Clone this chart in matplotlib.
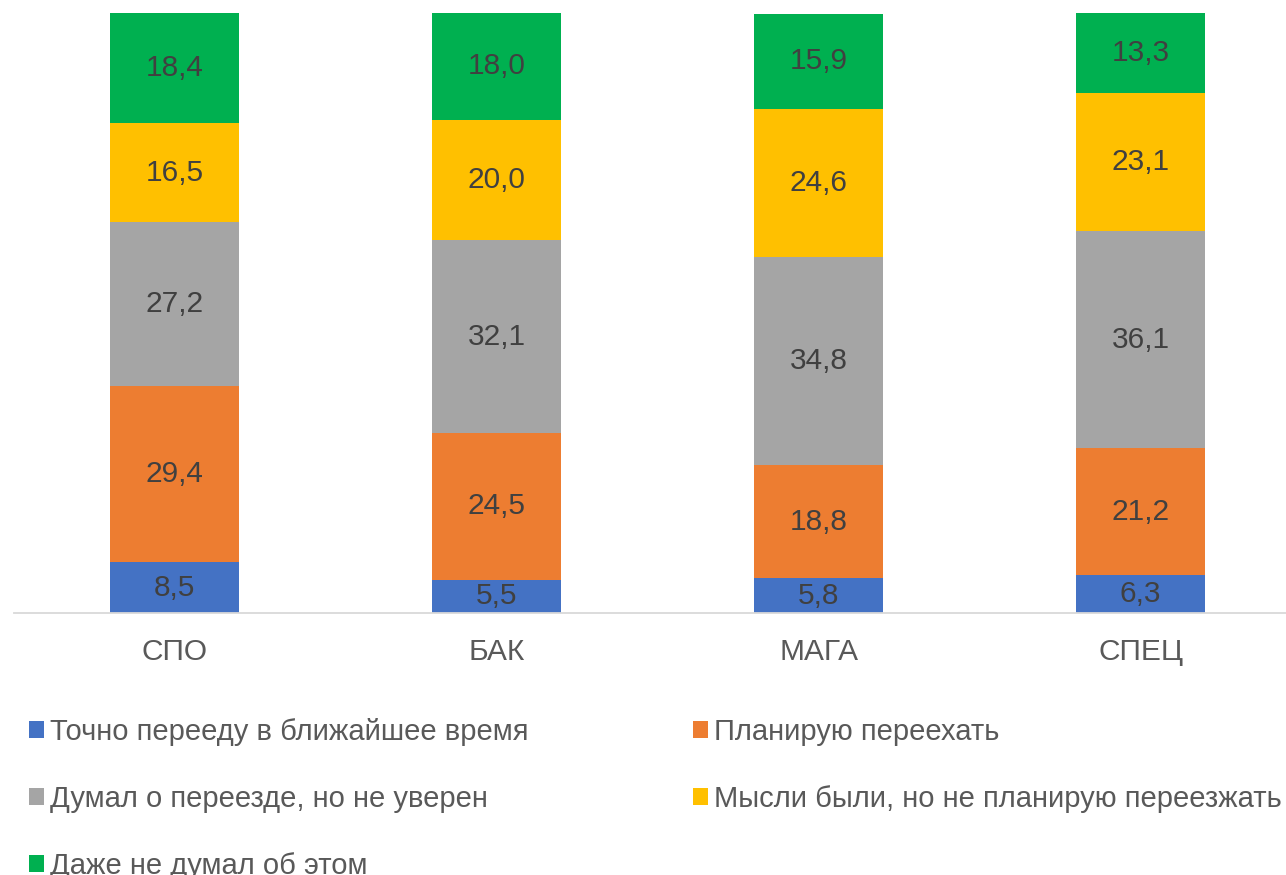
import numpy as np
import matplotlib
matplotlib.use("agg")
from matplotlib import pyplot as plt

plt.rcParams['font.family'] = ['Liberation Sans', 'DejaVu Sans']

categories = ["СПО", "БАК", "МАГА", "СПЕЦ"]
series_names = ["Точно перееду в ближайшее время",
                "Планирую переехать",
                "Думал о переезде, но не уверен",
                "Мысли были, но не планирую переезжать",
                "Даже не думал об этом"]
tochno = [8.5, 5.5, 5.8, 6.3]
planiruyu = [29.4, 24.5, 18.8, 21.2]
dumal = [27.2, 32.1, 34.8, 36.1]
mysli = [16.5, 20.0, 24.6, 23.1]
dazhe = [18.4, 18.0, 15.9, 13.3]
colors = ["#4472C4", "#ED7D31", "#A5A5A5", "#FFC000", "#00B050"]

fs = 21.5
fs_leg = 21

fig = plt.figure(figsize=(12.86, 8.75), dpi=100)
ax = fig.add_axes([13.5/1286, 262/875, 1288/1286, 600/875])

x = np.arange(len(categories))
bottom = np.zeros(len(categories))
handles = []
for name, vals, col in zip(series_names, [tochno, planiruyu, dumal, mysli, dazhe], colors):
    vals = np.array(vals)
    b = ax.bar(x, vals, 0.4, bottom=bottom, color=col, label=name)
    handles.append(b)
    for xi, v, bt in zip(x, vals, bottom):
        ax.text(xi, bt + v/2, f"{v:.1f}".replace(".", ","), ha="center", va="center",
                fontsize=fs, color="#404040")
    bottom += vals

ax.set_xlim(-0.5, 3.5)
ax.set_ylim(0, 100)
ax.set_yticks([])
ax.set_xticks(x)
ax.set_xticklabels(categories, fontsize=fs, color="#595959")
ax.tick_params(axis="x", length=0, pad=18)
for s in ["top", "right", "left"]:
    ax.spines[s].set_visible(False)
ax.spines["bottom"].set_color("#D9D9D9")
ax.spines["bottom"].set_linewidth(1.3)

# column-wise order so rows read left-to-right like the original
order = [0, 2, 4, 1, 3]
leg = fig.legend([handles[i] for i in order], [series_names[i] for i in order],
                 loc="upper left", bbox_to_anchor=(29/1286, 1 - 718.2/875), ncol=2,
                 frameon=False, fontsize=fs_leg, borderpad=0, borderaxespad=0,
                 handlelength=0.514, handleheight=0.514, handletextpad=0.2,
                 labelspacing=1.334, columnspacing=5.65)
for t in leg.get_texts():
    t.set_color("#595959")

fig.savefig("out.png", dpi=100)
